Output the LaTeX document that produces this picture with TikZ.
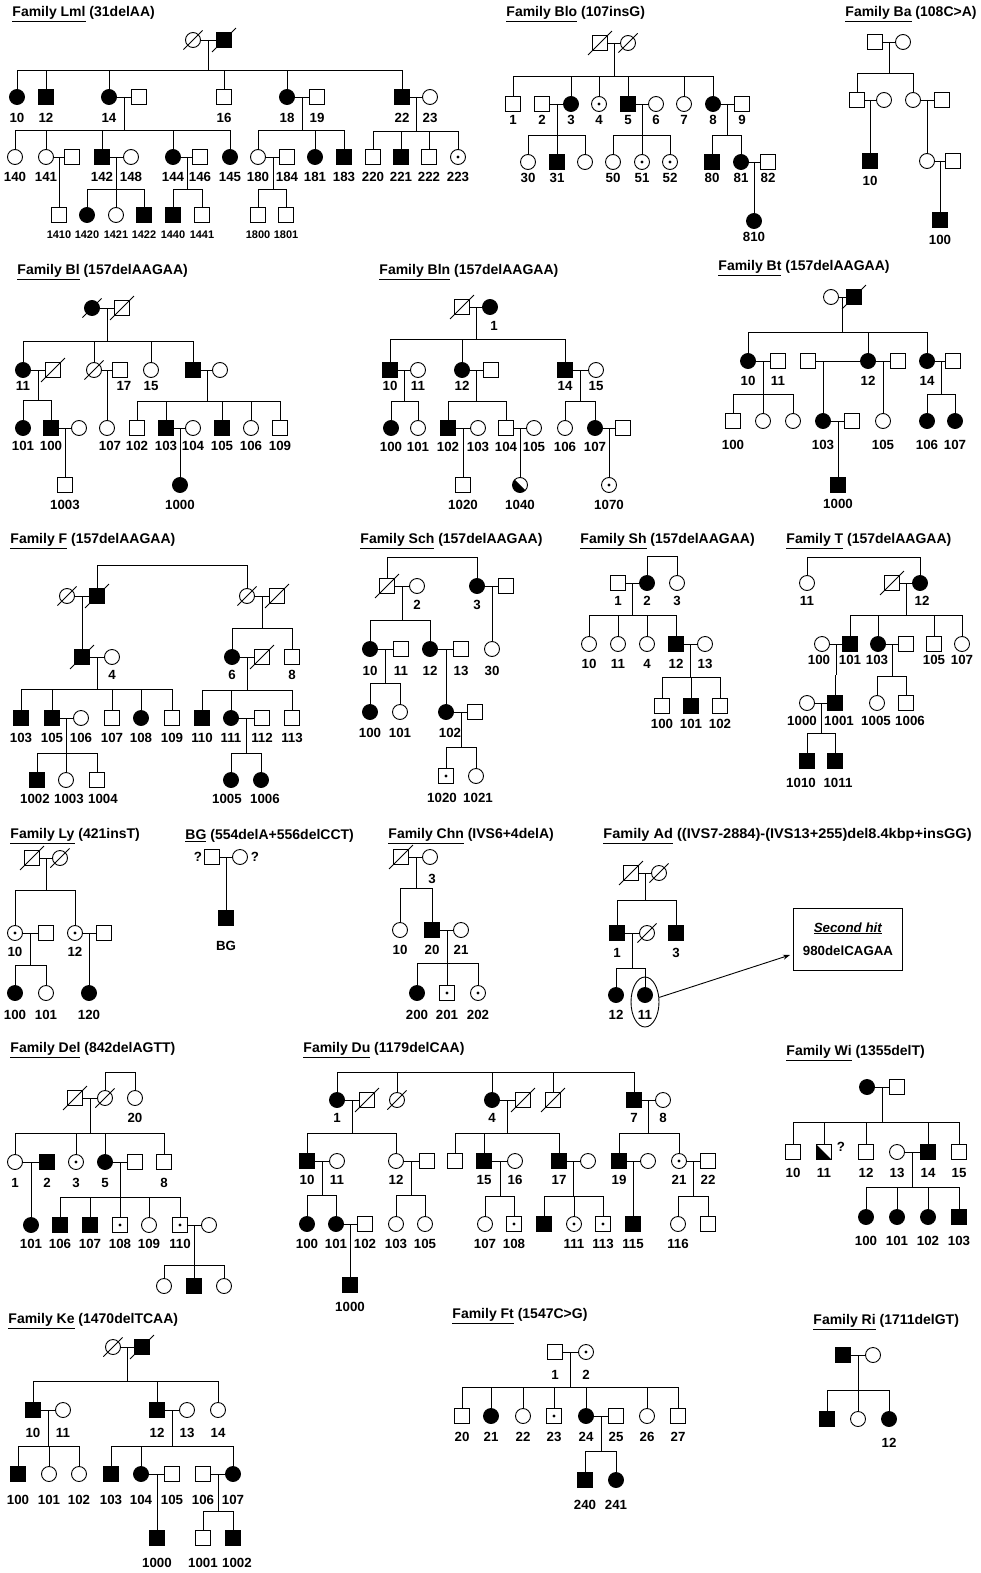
\documentclass[tikz,border=0pt]{standalone}
\usepackage{fontspec}
\setmainfont{Liberation Sans}
\usetikzlibrary{calc,arrows.meta,shapes.geometric}
\newcommand\lbf{\bfseries\fontsize{13.3}{13.3}\selectfont}
\newcommand\tbf{\bfseries\fontsize{14}{14}\selectfont}
\newcommand\sbf{\bfseries\fontsize{11}{11}\selectfont}
\tikzset{
 ind/.style={draw, line width=0.9pt, inner sep=0pt, minimum size=15pt, fill=white},
 male/.style={ind, rectangle},
 fem/.style={ind, circle},
 aff/.style={fill=black},
 car/.style={path picture={\fill[black] (path picture bounding box.center) circle (1.7pt);}},
 half/.style={path picture={\fill[black] (path picture bounding box.north west) -- (path picture bounding box.south west) -- (path picture bounding box.south east) -- cycle;}},
 lab/.style={font=\lbf, inner sep=0pt},
 ttlst/.style={font=\tbf, inner sep=0pt, anchor=west},
}
\newcommand\pI[5]{\node[#1] (#2) at (#3,#4) {}; \node[lab] (#2l) at (#3,#4+\LD) {#5};}
\newcommand\pU[4]{\node[#1] (#2) at (#3,#4) {};}
\newcommand\deceased[1]{\draw[line width=1pt] ([shift={(-4pt,-4pt)}]#1.south west) -- ([shift={(4pt,4pt)}]#1.north east);}
\newcommand\mate[2]{\draw (#1) -- (#2);}
\newcommand\kids[5]{\coordinate (#1m) at (#2,#3); \coordinate (#1b) at (#2,#4); \draw (#1m) -- (#1b); \foreach \ch in {#5}{\draw (\ch) |- (#1b);}}
\newcommand\brk[4]{\coordinate (#1) at (#2,#3); \foreach \ch in {#4}{\draw (\ch) |- (#1);}}
\newcommand\ttl[4]{\node[ttlst] (#1) at (#2,#3) {#4};}
\def\LD{20}
\begin{document}
\begin{tikzpicture}[x=1pt,y=-1pt,line width=0.9pt]
\useasboundingbox (0,0) rectangle (980,1573);
\fill[white] (0,0) rectangle (980,1573);
% ================= Lml
\ttl{tLml}{12}{14}{\underline{Family Lml} (31delAA)}
\def\LD{21}
\pU{fem}{aT1}{193}{40}\deceased{aT1}
\pU{male,aff}{aT2}{224}{40}\deceased{aT2}
\mate{aT1}{aT2}
\pI{fem,aff}{a10}{17}{97}{10}
\pI{male,aff}{a12}{46}{97}{12}
\pI{fem,aff}{a14}{109}{97}{14}
\pU{male}{a14s}{139}{97}
\pI{male}{a16}{224}{97}{16}
\pI{fem,aff}{a18}{287}{97}{18}
\pI{male}{a19}{317}{97}{19}
\pI{male,aff}{a22}{402}{97}{22}
\pI{fem}{a23}{430}{97}{23}
\kids{aK1}{208}{40}{70}{a10,a12,a14,a16,a18,a22}
\mate{a14}{a14s}\mate{a18}{a19}\mate{a22}{a23}
\def\LD{20}
\pI{fem}{a140}{15}{157}{140}
\pI{fem}{a141}{46}{157}{141}
\pU{male}{a141s}{72}{157}
\pI{male,aff}{a142}{102}{157}{142}
\pI{fem}{a148}{131}{157}{148}
\pI{fem,aff}{a144}{173}{157}{144}
\pI{male}{a146}{200}{157}{146}
\pI{fem,aff}{a145}{230}{157}{145}
\pI{fem}{a180}{258}{157}{180}
\pI{male}{a184}{287}{157}{184}
\pI{fem,aff}{a181}{315}{157}{181}
\pI{male,aff}{a183}{344}{157}{183}
\pI{male}{a220}{373}{157}{220}
\pI{male,aff}{a221}{401}{157}{221}
\pI{male}{a222}{429}{157}{222}
\pI{fem,car}{a223}{458}{157}{223}
\kids{aK2}{124}{97}{130}{a140,a141,a142,a144,a145}
\kids{aK3}{302}{97}{130}{a180,a181,a183}
\kids{aK4}{416}{97}{131}{a220,a221,a222,a223}
\mate{a141}{a141s}\mate{a142}{a148}\mate{a144}{a146}\mate{a180}{a184}
\begin{scope}[lab/.style={font=\sbf,inner sep=0pt}]
\pI{male}{a1410}{59}{215}{1410}
\pI{fem,aff}{a1420}{87}{215}{1420}
\pI{fem}{a1421}{116}{215}{1421}
\pI{male,aff}{a1422}{144}{215}{1422}
\pI{male,aff}{a1440}{173}{215}{1440}
\pI{male}{a1441}{202}{215}{1441}
\pI{male}{a1800}{258}{215}{1800}
\pI{male}{a1801}{286}{215}{1801}
\end{scope}
\kids{aK5}{59}{157}{189}{a1410}
\kids{aK6}{116}{157}{189}{a1420,a1421,a1422}
\kids{aK7}{187}{157}{189}{a1440,a1441}
\kids{aK8}{273}{157}{189}{a1800,a1801}
% ================= Blo
\ttl{tBlo}{506}{14}{\underline{Family Blo} (107insG)}
\def\LD{16}
\pU{male}{bT1}{600}{43}\deceased{bT1}
\pU{fem}{bT2}{628}{43}\deceased{bT2}
\mate{bT1}{bT2}
\pI{male}{b1}{513}{104}{1}
\pI{male}{b2}{542}{104}{2}
\pI{fem,aff}{b3}{571}{104}{3}
\pI{fem,car}{b4}{599}{104}{4}
\pI{male,aff}{b5}{628}{104}{5}
\pI{fem}{b6}{656}{104}{6}
\pI{fem}{b7}{684}{104}{7}
\pI{fem,aff}{b8}{713}{104}{8}
\pI{male}{b9}{742}{104}{9}
\kids{bK1}{614}{43}{76}{b1,b3,b4,b5,b7,b8}
\mate{b2}{b3}\mate{b5}{b6}\mate{b8}{b9}
\pI{fem}{b30}{528}{162}{30}
\pI{male,aff}{b31}{557}{162}{31}
\pU{fem}{b32}{585}{162}
\pI{fem}{b50}{613}{162}{50}
\pI{fem,car}{b51}{642}{162}{51}
\pI{fem,car}{b52}{670}{162}{52}
\pI{male,aff}{b80}{712}{162}{80}
\pI{fem,aff}{b81}{741}{162}{81}
\pI{male}{b82}{768}{162}{82}
\kids{bK2}{557}{104}{135}{b30,b31,b32}
\kids{bK3}{642}{104}{135}{b50,b51,b52}
\kids{bK4}{727}{104}{135}{b80,b81}
\mate{b81}{b82}
\pI{fem,aff}{b810}{754}{221}{810}
\kids{bK5}{754}{162}{190}{b810}
% ================= Ba
\ttl{tBa}{845}{14}{\underline{Family Ba} (108C>A)}
\pU{male}{cT1}{875}{42}\pU{fem}{cT2}{903}{42}\mate{cT1}{cT2}
\pU{male}{cA1}{857}{100}\pU{fem}{cA1s}{884}{100}
\pU{fem}{cA2}{913}{100}\pU{male}{cA2s}{942}{100}
\kids{cK1}{889}{42}{73}{cA1,cA2}
\mate{cA1}{cA1s}\mate{cA2}{cA2s}
\def\LD{20}
\pI{male,aff}{c10}{870}{161}{10}
\kids{cK2}{870}{100}{130}{c10}
\pU{fem}{cB1}{927}{161}\pU{male}{cB1s}{953}{161}\mate{cB1}{cB1s}
\kids{cK3}{927}{100}{130}{cB1}
\pI{male,aff}{c100}{940}{220}{100}
\kids{cK4}{940}{161}{190}{c100}
% ================= Bl
\ttl{tBl}{17}{272}{\underline{Family Bl} (157delAAGAA)}
\pU{fem,aff}{dT1}{92}{308}\deceased{dT1}
\pU{male}{dT2}{122}{308}\deceased{dT2}
\mate{dT1}{dT2}
\def\LD{16}
\pI{fem,aff}{d11}{23}{370}{11}
\pU{male}{d11s}{53}{370}\deceased{d11s}
\pU{fem}{dDc}{94}{370}\deceased{dDc}
\pU{male}{d17}{120}{370}\node[lab] (d17l) at (124,386) {17};
\pI{fem}{d15}{151}{370}{15}
\pU{male,aff}{dAm}{193}{370}
\pU{fem}{dAw}{220}{370}
\kids{dK1}{107}{308}{341}{d11,dDc,d15,dAm}
\mate{d11}{d11s}\mate{dDc}{d17}\mate{dAm}{dAw}
\def\LD{18}
\pI{fem,aff}{d101}{23}{428}{101}
\pI{male,aff}{d100}{51}{428}{100}
\pU{fem}{d100s}{79}{428}
\pU{fem}{d107}{107}{428}\node[lab] (d107l) at (110,446) {107};
\pI{male}{d102}{137}{428}{102}
\pI{male,aff}{d103}{166}{428}{103}
\pI{fem}{d104}{193}{428}{104}
\pI{male,aff}{d105}{222}{428}{105}
\pI{fem}{d106}{251}{428}{106}
\pI{male}{d109}{280}{428}{109}
\kids{dK2}{38}{370}{400}{d101,d100}
\kids{dK3}{107}{370}{400}{d107}
\kids{dK4}{207}{370}{401}{d102,d103,d105,d106,d109}
\mate{d100}{d100s}\mate{d103}{d104}
\def\LD{20}
\pI{male}{d1003}{65}{485}{1003}
\pI{fem,aff}{d1000}{180}{485}{1000}
\kids{dK5}{65}{428}{455}{d1003}
\kids{dK6}{180}{428}{455}{d1000}
% ================= Bln
\ttl{tBln}{379}{272}{\underline{Family Bln} (157delAAGAA)}
\pU{male}{eT1}{462}{307}\deceased{eT1}
\pU{fem,aff}{eT2}{490}{307}\node[lab] (eT2l) at (494,326) {1};
\mate{eT1}{eT2}
\def\LD{16}
\pI{male,aff}{e10}{390}{370}{10}
\pI{fem}{e11}{418}{370}{11}
\pI{fem,aff}{e12}{462}{370}{12}
\pU{male}{e12s}{491}{370}
\pI{male,aff}{e14}{565}{370}{14}
\pI{fem}{e15}{596}{370}{15}
\kids{eK1}{476}{307}{339}{e10,e12,e14}
\mate{e10}{e11}\mate{e12}{e12s}\mate{e14}{e15}
\def\LD{19}
\pI{fem,aff}{e100}{391}{428}{100}
\pI{fem}{e101}{418}{428}{101}
\pI{male,aff}{e102}{448}{428}{102}
\pI{fem}{e103}{478}{428}{103}
\pI{male}{e104}{506}{428}{104}
\pI{fem}{e105}{534}{428}{105}
\pI{fem}{e106}{565}{428}{106}
\pI{fem,aff}{e107}{595}{428}{107}
\pU{male}{e107s}{623}{428}
\kids{eK2}{404}{370}{401}{e100,e101}
\kids{eK3}{476}{370}{401}{e102,e104}
\kids{eK4}{580}{370}{401}{e106,e107}
\mate{e102}{e103}\mate{e104}{e105}\mate{e107}{e107s}
\def\LD{20}
\pI{male}{e1020}{463}{485}{1020}
\pI{fem,half}{e1040}{520}{485}{1040}
\pI{fem,car}{e1070}{609}{485}{1070}
\kids{eK5}{463}{428}{455}{e1020}
\kids{eK6}{520}{428}{455}{e1040}
\kids{eK7}{609}{428}{455}{e1070}
% ================= Bt
\ttl{tBt}{718}{268}{\underline{Family Bt} (157delAAGAA)}
\pU{fem}{gT1}{831}{297}
\pU{male,aff}{gT2}{854}{297}\deceased{gT2}
\mate{gT1}{gT2}
\def\LD{20}
\pI{fem,aff}{g10}{748}{361}{10}
\pI{male}{g11}{778}{361}{11}
\pU{male}{gXs}{808}{361}
\pI{fem,aff}{g12}{868}{361}{12}
\pU{male}{g12s}{898}{361}
\pI{fem,aff}{g14}{927}{361}{14}
\pU{male}{g14s}{953}{361}
\kids{gK1}{842}{297}{332}{g10,g12,g14}
\mate{g10}{g11}\mate{gXs}{g12}\mate{g12}{g12s}\mate{g14}{g14s}
\def\LD{24}
\pI{male}{g100}{733}{421}{100}
\pU{fem}{gc1}{763}{421}
\pU{fem}{gc2}{793}{421}
\pI{fem,aff}{g103}{823}{421}{103}
\pU{male}{g103s}{852}{421}
\pI{fem}{g105}{883}{421}{105}
\pI{fem,aff}{g106}{927}{421}{106}
\pI{fem,aff}{g107}{955}{421}{107}
\kids{gK2}{763}{361}{394}{g100,gc1,gc2}
\kids{gK3}{823}{361}{390}{g103}
\kids{gK4}{883}{361}{390}{g105}
\kids{gK5}{941}{361}{394}{g106,g107}
\mate{g103}{g103s}
\def\LD{19}
\pI{male,aff}{g1000}{838}{485}{1000}
\kids{gK6}{838}{421}{450}{g1000}
% ================= F
\ttl{tF}{10}{541}{\underline{Family F} (157delAAGAA)}
\pU{fem}{fA1}{67}{596}\deceased{fA1}
\pU{male,aff}{fA2}{97}{596}\deceased{fA2}
\pU{fem}{fB1}{247}{596}\deceased{fB1}
\pU{male}{fB2}{277}{596}\deceased{fB2}
\mate{fA1}{fA2}\mate{fB1}{fB2}
\brk{fTop}{172}{565}{fA2,fB1}
\def\LD{18}
\pU{male,aff}{fC}{82}{657}\deceased{fC}
\pI{fem}{f4}{112}{657}{4}
\pI{fem,aff}{f6}{232}{657}{6}
\pU{male}{f6s}{262}{657}\deceased{f6s}
\pI{male}{f8}{292}{657}{8}
\kids{fK1}{82}{596}{627}{fC}
\kids{fK2}{262}{596}{628}{f6,f8}
\mate{fC}{f4}\mate{f6}{f6s}
\def\LD{20}
\pI{male,aff}{f103}{21}{718}{103}
\pI{male,aff}{f105}{52}{718}{105}
\pI{fem}{f106}{81}{718}{106}
\pI{male}{f107}{112}{718}{107}
\pI{fem,aff}{f108}{141}{718}{108}
\pI{male}{f109}{172}{718}{109}
\pI{male,aff}{f110}{202}{718}{110}
\pI{fem,aff}{f111}{231}{718}{111}
\pI{male}{f112}{262}{718}{112}
\pI{male}{f113}{292}{718}{113}
\kids{fK3}{97}{657}{689}{f103,f105,f107,f108,f109}
\kids{fK4}{247}{657}{690}{f110,f111,f113}
\mate{f105}{f106}\mate{f111}{f112}
\pU{male,aff}{f1002}{37}{780}\node[lab] (f1002l) at (35,799) {1002};
\pU{fem}{f1003}{66}{780}\node[lab] (f1003l) at (69,799) {1003};
\pU{male}{f1004}{97}{780}\node[lab] (f1004l) at (103,799) {1004};
\pU{fem,aff}{f1005}{231}{780}\node[lab] (f1005l) at (227,799) {1005};
\pU{fem,aff}{f1006}{261}{780}\node[lab] (f1006l) at (265,799) {1006};
\kids{fK5}{66}{718}{753}{f1002,f1003,f1004}
\kids{fK6}{246}{718}{753}{f1005,f1006}
% ================= Sch
\ttl{tSch}{360}{541}{\underline{Family Sch} (157delAAGAA)}
\def\LD{19}
\pU{male}{h1}{387}{586}\deceased{h1}
\pI{fem}{h2}{417}{586}{2}
\pI{fem,aff}{h3}{477}{586}{3}
\pU{male}{h3s}{506}{586}
\brk{hTop}{432}{557}{h1,h3}
\mate{h1}{h2}\mate{h3}{h3s}
\def\LD{22}
\pI{fem,aff}{h10}{370}{649}{10}
\pI{male}{h11}{401}{649}{11}
\pI{fem,aff}{h12}{430}{649}{12}
\pI{male}{h13}{461}{649}{13}
\pI{fem}{h30}{492}{649}{30}
\kids{hK1}{402}{586}{620}{h10,h12}
\kids{hK2}{492}{586}{615}{h30}
\mate{h10}{h11}\mate{h12}{h13}
\def\LD{21}
\pI{fem,aff}{h100}{370}{712}{100}
\pI{fem}{h101}{400}{712}{101}
\pU{fem,aff}{h102}{446}{712}\node[lab] (h102l) at (450,733) {102};
\pU{male}{h102s}{475}{712}
\kids{hK3}{385}{649}{683}{h100,h101}
\kids{hK4}{446}{649}{680}{h102}
\mate{h102}{h102s}
\pU{male,car}{h1020}{446}{776}\node[lab] (h1020l) at (442,798) {1020};
\pU{fem}{h1021}{476}{776}\node[lab] (h1021l) at (478,798) {1021};
\kids{hK5}{461}{712}{747}{h1020,h1021}
% ================= Sh
\ttl{tSh}{580}{541}{\underline{Family Sh} (157delAAGAA)}
\def\LD{18}
\pI{male}{i1}{618}{583}{1}
\pI{fem,aff}{i2}{647}{583}{2}
\pI{fem}{i3}{677}{583}{3}
\brk{iTop}{662}{556}{i2,i3}
\mate{i1}{i2}
\def\LD{20}
\pI{fem}{i10}{589}{644}{10}
\pI{fem}{i11}{618}{644}{11}
\pI{fem}{i4}{647}{644}{4}
\pI{male,aff}{i12}{676}{644}{12}
\pI{fem}{i13}{705}{644}{13}
\kids{iK1}{632}{583}{615}{i10,i11,i4,i12}
\mate{i12}{i13}
\def\LD{18}
\pI{male}{i100}{662}{706}{100}
\pI{male,aff}{i101}{691}{706}{101}
\pI{male}{i102}{720}{706}{102}
\kids{iK2}{690}{644}{677}{i100,i101,i102}
% ================= T
\ttl{tT}{786}{541}{\underline{Family T} (157delAAGAA)}
\def\LD{18}
\pI{fem}{j11}{807}{583}{11}
\pU{male}{j12s}{892}{583}\deceased{j12s}
\pU{fem,aff}{j12}{920}{583}\node[lab] (j12l) at (922,601) {12};
\brk{jTop}{863}{557}{j11,j12}
\mate{j12s}{j12}
\def\LD{16}
\pU{fem}{j100}{822}{644}\node[lab] (j100l) at (819,660) {100};
\pI{male,aff}{j101}{850}{644}{101}
\pU{fem,aff}{j103}{878}{644}\node[lab] (j103l) at (877,660) {103};
\pU{male}{j103s}{906}{644}
\pI{male}{j105}{934}{644}{105}
\pI{fem}{j107}{962}{644}{107}
\kids{jK1}{906}{583}{615}{j101,j103,j105,j107}
\mate{j100}{j101}\mate{j103}{j103s}
\pU{fem}{j1000}{807}{703}\node[lab] (j1000l) at (802,721) {1000};
\pU{male,aff}{j1001}{835}{703}\node[lab] (j1001l) at (839,721) {1001};
\pU{fem}{j1005}{877}{703}\node[lab] (j1005l) at (876,721) {1005};
\pU{male}{j1006}{906}{703}\node[lab] (j1006l) at (910,721) {1006};
\kids{jK2}{836}{644}{675}{j1001}
\kids{jK3}{892}{644}{676}{j1005,j1006}
\mate{j1000}{j1001}
\pU{male,aff}{j1010}{807}{761}\node[lab] (j1010l) at (801,783) {1010};
\pU{male,aff}{j1011}{835}{761}\node[lab] (j1011l) at (838,783) {1011};
\kids{jK4}{821}{703}{733}{j1010,j1011}
% ================= Ly
\ttl{tLy}{10}{836}{\underline{Family Ly} (421insT)}
\pU{male}{kT1}{32}{858}\deceased{kT1}
\pU{fem}{kT2}{60}{858}\deceased{kT2}
\mate{kT1}{kT2}
\def\LD{19}
\pI{fem,car}{k10}{15}{933}{10}
\pU{male}{k10s}{46}{933}
\pI{fem,car}{k12}{75}{933}{12}
\pU{male}{k12s}{104}{933}
\kids{kK1}{46}{858}{890}{k10,k12}
\mate{k10}{k10s}\mate{k12}{k12s}
\def\LD{22}
\pI{fem,aff}{k100}{15}{993}{100}
\pI{fem}{k101}{46}{993}{101}
\pI{fem,aff}{k120}{89}{993}{120}
\kids{kK2}{30}{933}{965}{k100,k101}
\kids{kK3}{89}{933}{965}{k120}
% ================= BG
\ttl{tBG}{185}{836}{\underline{BG} (554delA+556delCCT)}
\pU{male}{lT1}{212}{857}
\pU{fem}{lT2}{240}{857}
\mate{lT1}{lT2}
\node[lab] (lq1) at (198,857) {?};
\node[lab] (lq2) at (255,857) {?};
\pU{male,aff}{lBG}{226}{918}\node[lab] (lBGl) at (226,946) {BG};
\kids{lK1}{226}{857}{890}{lBG}
% ================= Chn
\ttl{tChn}{388}{836}{\underline{Family Chn} (IVS6+4delA)}
\pU{male}{mT1}{401}{857}\deceased{mT1}
\pU{fem}{mT2}{430}{857}\node[lab] (mT2l) at (432,879) {3};
\mate{mT1}{mT2}
\def\LD{20}
\pI{fem}{m10}{400}{930}{10}
\pI{male,aff}{m20}{432}{930}{20}
\pI{fem}{m21}{461}{930}{21}
\kids{mK1}{416}{857}{888}{m10,m20}
\mate{m20}{m21}
\def\LD{22}
\pI{fem,aff}{m200}{417}{993}{200}
\pI{male,car}{m201}{447}{993}{201}
\pI{fem,car}{m202}{478}{993}{202}
\kids{mK2}{447}{930}{963}{m200,m201,m202}
% ================= Ad
\ttl{tAd}{603}{836}{\scalebox{1.04}[1]{\underline{Family Ad} ((IVS7-2884)-(IVS13+255)del8.4kbp+insGG)}}
\pU{male}{nT1}{631}{873}\deceased{nT1}
\pU{fem}{nT2}{659}{873}\deceased{nT2}
\mate{nT1}{nT2}
\def\LD{20}
\pI{male,aff}{n1}{617}{933}{1}
\pU{fem}{n1s}{647}{933}\deceased{n1s}
\pI{male,aff}{n3}{676}{933}{3}
\kids{nK1}{645}{873}{900}{n1,n3}
\mate{n1}{n1s}
\pI{fem,aff}{n12}{616}{995}{12}
\pI{fem,aff}{n11}{645}{995}{11}
\kids{nK2}{632}{933}{968}{n12,n11}
\node[draw, ellipse, line width=0.9pt, minimum width=28pt, minimum height=50pt, inner sep=0pt] (nOv) at (645,1002) {};
\node[draw, line width=0.8pt, minimum width=109pt, minimum height=62pt, align=center, font=\lbf, inner sep=0pt] (nBox) at (848,939) {\underline{\textit{Second hit}}\\[10pt]980delCAGAA};
\coordinate (nTip) at (790,955);
\draw[-{Stealth[length=7pt,width=5pt]}] (nOv) -- (nTip);
% ================= Del
\ttl{tDel}{10}{1050}{\underline{Family Del} (842delAGTT)}
\pU{male}{oT1}{75}{1098}\deceased{oT1}
\pU{fem}{oT2}{105}{1098}\deceased{oT2}
\def\LD{20}
\pI{fem}{o20}{135}{1098}{20}
\brk{oTop}{120}{1072}{oT2,o20}
\mate{oT1}{oT2}
\def\LD{21}
\pI{fem}{o1}{15}{1162}{1}
\pI{male,aff}{o2}{47}{1162}{2}
\pI{fem,car}{o3}{76}{1162}{3}
\pI{fem,aff}{o5}{105}{1162}{5}
\pU{male}{o5s}{135}{1162}
\pI{male}{o8}{164}{1162}{8}
\kids{oK1}{90}{1098}{1133}{o1,o3,o5,o8}
\mate{o1}{o2}\mate{o5}{o5s}
\def\LD{19}
\pI{fem,aff}{o101}{31}{1225}{101}
\pI{male,aff}{o106}{60}{1225}{106}
\pI{male,aff}{o107}{90}{1225}{107}
\pI{male,car}{o108}{120}{1225}{108}
\pI{fem}{o109}{149}{1225}{109}
\pI{male,car}{o110}{180}{1225}{110}
\pU{fem}{o110s}{209}{1225}
\kids{oK2}{31}{1162}{1195}{o101}
\kids{oK3}{120}{1162}{1197}{o106,o107,o108,o109,o110}
\mate{o110}{o110s}
\pU{fem}{oc1}{164}{1286}
\pU{male,aff}{oc2}{194}{1286}
\pU{fem}{oc3}{224}{1286}
\kids{oK4}{194}{1225}{1265}{oc1,oc2,oc3}
% ================= Du
\ttl{tDu}{303}{1050}{\underline{Family Du} (1179delCAA)}
\def\LD{18}
\pI{fem,aff}{p1}{337}{1100}{1}
\pU{male}{p1s}{367}{1100}\deceased{p1s}
\pU{fem}{pDc}{397}{1100}\deceased{pDc}
\pI{fem,aff}{p4}{492}{1100}{4}
\pU{male}{p4s}{523}{1100}\deceased{p4s}
\pU{male}{pDs}{553}{1100}\deceased{pDs}
\pI{male,aff}{p7}{634}{1100}{7}
\pI{fem}{p8}{663}{1100}{8}
\brk{pTop}{485}{1072}{p1,pDc,p4,pDs,p7}
\mate{p1}{p1s}\mate{p4}{p4s}\mate{p7}{p8}
\def\LD{19}
\pI{male,aff}{p10}{307}{1161}{10}
\pI{fem}{p11}{337}{1161}{11}
\pI{fem}{p12}{396}{1161}{12}
\pU{male}{p12s}{427}{1161}
\pU{male}{pX}{455}{1161}
\pI{male,aff}{p15}{484}{1161}{15}
\pI{fem}{p16}{515}{1161}{16}
\pI{male,aff}{p17}{559}{1161}{17}
\pU{fem}{p17s}{588}{1161}
\pI{male,aff}{p19}{619}{1161}{19}
\pU{fem}{p19s}{648}{1161}
\pI{fem,car}{p21}{679}{1161}{21}
\pI{male}{p22}{708}{1161}{22}
\kids{pK1}{352}{1100}{1133}{p10,p12}
\kids{pK2}{507}{1100}{1133}{pX,p15,p17}
\kids{pK3}{648}{1100}{1133}{p19,p21}
\mate{p10}{p11}\mate{p12}{p12s}\mate{p15}{p16}\mate{p17}{p17s}\mate{p19}{p19s}\mate{p21}{p22}
\def\LD{20}
\pI{fem,aff}{p100}{307}{1224}{100}
\pI{fem,aff}{p101}{336}{1224}{101}
\pI{male}{p102}{365}{1224}{102}
\pI{fem}{p103}{396}{1224}{103}
\pI{fem}{p105}{425}{1224}{105}
\pI{fem}{p107}{485}{1224}{107}
\pI{male,car}{p108}{514}{1224}{108}
\pU{male,aff}{pY}{544}{1224}
\pI{fem,car}{p111}{574}{1224}{111}
\pI{male,car}{p113}{603}{1224}{113}
\pI{male,aff}{p115}{633}{1224}{115}
\pI{fem}{p116}{678}{1224}{116}
\pU{male}{pZ}{708}{1224}
\kids{pK4}{322}{1161}{1195}{p100,p101}
\kids{pK5}{411}{1161}{1195}{p103,p105}
\kids{pK6}{500}{1161}{1196}{p107,p108}
\kids{pK7}{573}{1161}{1196}{pY,p111,p113}
\kids{pK8}{633}{1161}{1195}{p115}
\kids{pK9}{693}{1161}{1196}{p116,pZ}
\mate{p101}{p102}
\def\LD{22}
\pI{male,aff}{p1000}{350}{1285}{1000}
\kids{pK10}{350}{1224}{1255}{p1000}
% ================= Wi
\ttl{tWi}{786}{1053}{\underline{Family Wi} (1355delT)}
\pU{fem,aff}{qT1}{867}{1087}
\pU{male}{qT2}{897}{1087}
\mate{qT1}{qT2}
\def\LD{21}
\pI{male}{q10}{793}{1152}{10}
\pI{male,half}{q11}{824}{1152}{11}
\node[lab] (q11q) at (841,1147) {?};
\pI{male}{q12}{866}{1152}{12}
\pI{fem}{q13}{897}{1152}{13}
\pI{male,aff}{q14}{928}{1152}{14}
\pI{male}{q15}{959}{1152}{15}
\kids{qK1}{882}{1087}{1122}{q10,q11,q12,q14,q15}
\mate{q13}{q14}
\def\LD{24}
\pI{fem,aff}{q100}{866}{1217}{100}
\pI{fem,aff}{q101}{897}{1217}{101}
\pI{fem,aff}{q102}{928}{1217}{102}
\pI{male,aff}{q103}{959}{1217}{103}
\kids{qK2}{912}{1152}{1187}{q100,q101,q102,q103}
% ================= Ke
\ttl{tKe}{8}{1321}{\underline{Family Ke} (1470delTCAA)}
\pU{fem}{rT1}{113}{1347}\deceased{rT1}
\pU{male,aff}{rT2}{142}{1347}\deceased{rT2}
\mate{rT1}{rT2}
\def\LD{23}
\pI{male,aff}{r10}{33}{1410}{10}
\pI{fem}{r11}{63}{1410}{11}
\pI{male,aff}{r12}{157}{1410}{12}
\pI{fem}{r13}{187}{1410}{13}
\pI{fem}{r14}{218}{1410}{14}
\kids{rK1}{127}{1347}{1381}{r10,r12,r14}
\mate{r10}{r11}\mate{r12}{r13}
\def\LD{26}
\pI{male,aff}{r100}{18}{1474}{100}
\pI{fem}{r101}{49}{1474}{101}
\pI{fem}{r102}{79}{1474}{102}
\pI{male,aff}{r103}{111}{1474}{103}
\pI{fem,aff}{r104}{141}{1474}{104}
\pI{male}{r105}{172}{1474}{105}
\pI{male}{r106}{203}{1474}{106}
\pI{fem,aff}{r107}{233}{1474}{107}
\kids{rK2}{48}{1410}{1446}{r100,r101,r102}
\kids{rK3}{172}{1410}{1446}{r103,r104,r107}
\mate{r104}{r105}\mate{r106}{r107}
\def\LD{25}
\pI{male,aff}{r1000}{157}{1538}{1000}
\pI{male}{r1001}{203}{1538}{1001}
\pU{male,aff}{r1002}{233}{1538}\node[lab] (r1002l) at (237,1563) {1002};
\kids{rK4}{157}{1474}{1505}{r1000}
\kids{rK5}{218}{1474}{1511}{r1001,r1002}
% ================= Ft
\ttl{tFt}{452}{1316}{\underline{Family Ft} (1547C>G)}
\def\LD{23}
\pI{male}{s1}{555}{1352}{1}
\pI{fem,car}{s2}{586}{1352}{2}
\mate{s1}{s2}
\def\LD{21}
\pI{male}{s20}{462}{1416}{20}
\pI{fem,aff}{s21}{491}{1416}{21}
\pI{fem}{s22}{523}{1416}{22}
\pI{male,car}{s23}{554}{1416}{23}
\pI{fem,aff}{s24}{586}{1416}{24}
\pI{male}{s25}{616}{1416}{25}
\pI{fem}{s26}{647}{1416}{26}
\pI{male}{s27}{678}{1416}{27}
\kids{sK1}{570}{1352}{1387}{s20,s21,s22,s23,s24,s26,s27}
\mate{s24}{s25}
\def\LD{25}
\pI{male,aff}{s240}{585}{1480}{240}
\pI{fem,aff}{s241}{616}{1480}{241}
\kids{sK2}{601}{1416}{1451}{s240,s241}
% ================= Ri
\ttl{tRi}{813}{1322}{\underline{Family Ri} (1711delGT)}
\pU{male,aff}{tT1}{843}{1355}
\pU{fem}{tT2}{873}{1355}
\mate{tT1}{tT2}
\pU{male,aff}{tc1}{827}{1419}
\pU{fem}{tc2}{858}{1419}
\def\LD{24}
\pI{fem,aff}{t12}{889}{1419}{12}
\kids{tK1}{858}{1355}{1390}{tc1,tc2,t12}
\end{tikzpicture}
\end{document}
